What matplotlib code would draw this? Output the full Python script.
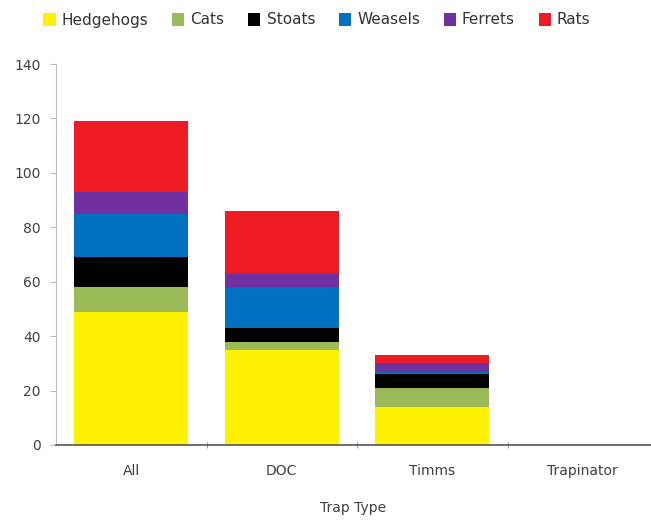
import numpy as np
import matplotlib.pyplot as plt

# trap types and catches per species
categories = ["All", "DOC", "Timms", "Trapinator"]
species = ["Hedgehogs", "Cats", "Stoats", "Weasels", "Ferrets", "Rats"]
hedgehogs = [49, 35, 14, 0]
cats = [9, 3, 7, 0]
stoats = [11, 5, 5, 0]
weasels = [16, 15, 1, 0]
ferrets = [8, 5, 3, 0]
rats = [26, 23, 3, 0]
series = [hedgehogs, cats, stoats, weasels, ferrets, rats]
colors = ["#FFF200", "#9BBB59", "#000000", "#0070C0", "#7030A0", "#ED1C24"]

plt.rcParams["font.family"] = ["DejaVu Sans"]

fig = plt.figure(figsize=(6.51, 5.23), dpi=100)
ax = fig.add_axes([56 / 651, 78 / 523, 595 / 651, 381 / 523])

x = np.arange(len(categories))
bottom = np.zeros(len(categories))
for name, vals, c in zip(species, series, colors):
    ax.bar(x, vals, width=0.76, bottom=bottom, color=c, label=name)
    bottom += np.array(vals)

ax.set_xlim(-0.5, -0.5 + 595 / 150.5)
ax.set_ylim(0, 140)
ax.set_yticks(range(0, 141, 20))
ax.set_xticks(x)
ax.set_xticklabels(categories, fontsize=10, color="#404040")
ax.set_xticks(x[:-1] + 0.5, minor=True)
ax.tick_params(axis="x", which="major", length=0, pad=14)
ax.tick_params(axis="x", which="minor", length=5, direction="inout", color="#888888")
ax.tick_params(axis="y", labelsize=10, labelcolor="#404040", color="#bbbbbb", length=4, pad=7)

for s in ["top", "right"]:
    ax.spines[s].set_visible(False)
ax.spines["left"].set_color("#bbbbbb")
ax.spines["bottom"].set_color("#555555")
ax.spines["bottom"].set_linewidth(1.2)

ax.set_xlabel("Trap Type", fontsize=10, color="#404040", labelpad=16)

fig.legend(loc="center", bbox_to_anchor=(0.487, 1 - 20 / 523), ncol=6, frameon=False,
           fontsize=11, handlelength=0.8, handleheight=0.9, handletextpad=0.4,
           columnspacing=1.55, labelcolor="#333333")

fig.savefig("out.png", dpi=100)
